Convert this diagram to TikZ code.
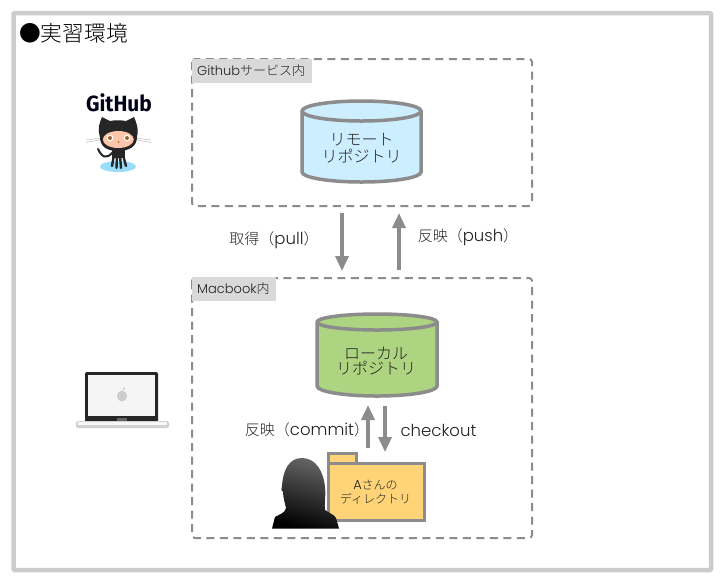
\documentclass[tikz,border=0pt]{standalone}
\usepackage{graphicx}
\usepackage{fontspec}
\setmainfont{Noto Sans CJK JP Light}
\newfontfamily\gh{Fira Sans}
\newfontfamily\lat{Poppins Light}
\usetikzlibrary{arrows.meta,calc}
\definecolor{lin}{HTML}{8C8C8C}
\definecolor{frame}{HTML}{CCCCCC}
\definecolor{lab}{HTML}{D9D9D9}
\definecolor{bluef}{HTML}{CCEEFF}
\definecolor{greenf}{HTML}{ADD480}
\definecolor{foldf}{HTML}{FFD377}
\definecolor{txt}{HTML}{222222}
\newcommand{\latbig}{\lat\fontsize{16.5}{17}\selectfont}
\newcommand{\latsmall}{\lat\fontsize{13}{14}\selectfont}
\tikzset{
 zone/.style={draw=lin,line width=2pt,dash pattern=on 8pt off 5.5pt,rounded corners=3pt},
 tag/.style={text=txt,inner sep=0pt,anchor=west,font=\fontsize{13}{14}\selectfont},
 cyl/.style={draw=lin,line width=3.5pt},
 flow/.style={draw=lin,line width=3.5pt,-{Triangle[length=15pt,width=13pt]}},
 caption/.style={text=txt,font=\fontsize{15}{16}\selectfont,inner sep=0pt},
 two/.style={text=txt,font=\fontsize{16}{17}\selectfont,align=center,inner sep=0pt},
}
\begin{document}
\begin{tikzpicture}[x=1pt,y=-1pt]
\useasboundingbox (0,0) rectangle (722,582);
\fill[white] (0,0) rectangle (722,582);
\draw[frame,line width=4.5pt,rounded corners=1pt] (13.5,13) rectangle (711,570);
\node[anchor=west,inner sep=0pt,font=\fontsize{21.7}{23}\selectfont,text=black] (title) at (19,33) {●実習環境};
% zones
\draw[zone] (192,59) rectangle (532,206);
\draw[zone] (192,278) rectangle (532,538);
\fill[lab] (192,59) rectangle (312,83);
\fill[lab] (192,277) rectangle (276,301);
\node[tag] (ghtag) at (197,71) {{\latsmall Github}サービス内};
\node[tag] (mactag) at (197,289) {{\latsmall Macbook}内};
% blue cylinder
\draw[cyl,fill=bluef] (302,111) -- (302,172) arc[start angle=180,end angle=0,x radius=59.5,y radius=10] -- (421,111) arc[start angle=0,end angle=-180,x radius=59.5,y radius=10] -- cycle;
\draw[cyl] (302,111) arc[start angle=180,end angle=0,x radius=59.5,y radius=10];
\node[two] (remote) at (361.5,148) {リモート\\[0pt]リポジトリ};
% green cylinder
\draw[cyl,fill=greenf] (317,322) -- (317,386) arc[start angle=180,end angle=0,x radius=60,y radius=10] -- (437,322) arc[start angle=0,end angle=-180,x radius=60,y radius=8] -- cycle;
\draw[cyl] (317,322) arc[start angle=180,end angle=0,x radius=60,y radius=8];
\node[two] (local) at (376,361) {ローカル\\[-2pt]リポジトリ};
% connectors
\coordinate (pullA) at (342,213); \coordinate (pullB) at (342,271);
\coordinate (pushA) at (399,270); \coordinate (pushB) at (399,213);
\coordinate (comA) at (368,448); \coordinate (comB) at (368,405);
\coordinate (chkA) at (385,406); \coordinate (chkB) at (385,452);
\draw[flow] (pullA) -- (pullB);
\draw[flow] (pushA) -- (pushB);
\draw[flow] (comA) -- (comB);
\draw[flow] (chkA) -- (chkB);
\node[caption] (pull) at (274,240) {取得（{\latbig pull}）};
\node[caption] (push) at (468,237) {反映（{\latbig push}）};
\node[caption] (commit) at (307,430) {反映（{\latbig commit}）};
\node[caption] (chk) at (438.5,430) {{\latbig checkout}};
% folder
\draw[lin,line width=3pt,fill=foldf] (328,463) -- (328,453.5) -- (356,453.5) -- (356,463);
\draw[lin,line width=3pt,fill=foldf] (328,463.5) rectangle (424,520);
\node[text=txt,font=\fontsize{12}{13}\selectfont,align=center,inner sep=0pt] (dir) at (375.5,492) {{\latsmall A}さんの\\[1.5pt]ディレクトリ};
% person
\shade[top color=black!60,bottom color=black,shading angle=-15]
 (272,528.5) -- (275,517) .. controls (280,514) and (285,513) .. (286,508)
 .. controls (285,503) and (283,497) .. (283,492) .. controls (281,491) and (281,489) .. (282,486)
 .. controls (283,470) and (289,458) .. (302,458) .. controls (316,458) and (324,472) .. (325,488)
 .. controls (326,497) and (324,505) .. (325,510) .. controls (329,513) and (335,515) .. (336,518)
 -- (339,528.5) -- cycle;
% GitHub logo
\node[font=\gh\bfseries\fontsize{22}{24}\selectfont,text=black!90!blue,inner sep=0pt] (ghlogo) at (119,103) {\scalebox{.95}[1]{GitHub}};
\fill[cyan!40!white] (118,166.5) ellipse[x radius=18,y radius=5.5];
\draw[black!20,line width=.7pt] (86,142.5) -- (101,139.5) (86,140) -- (101,138) (151,142.5) -- (135,139.5) (151,140) -- (135,138);
\draw[black!85,line width=2pt,line cap=round] (113,152) .. controls (106,160) and (102,157) .. (98,149);
\fill[black!85] (100,137) .. controls (97,128) and (100,122) .. (102,117) -- (110,121) .. controls (115,120) and (121,120) .. (126,121) -- (134,117) .. controls (136,122) and (139,128) .. (137,137) .. controls (137,146) and (130,151) .. (118,151) .. controls (106,151) and (100,146) .. (100,137) -- cycle;
\fill[black!85] (112,148) rectangle (125,158);
\draw[black!85,line width=2.4pt,line cap=round] (114,155) -- (112,166) (117,155) -- (116.5,168) (120,155) -- (121,168) (123,155) -- (126,166);
\fill[orange!30!pink!70!white] (118.3,139.5) ellipse[x radius=15.5,y radius=8.5];
\fill[white] (110,138) circle[radius=3.4] (127,138) circle[radius=3.4];
\fill[brown!80!black] (110,138) circle[radius=2] (127,138) circle[radius=2];
\fill[brown!70!black] (118.5,142) circle[radius=.8];
% laptop
\fill[black!85,rounded corners=2pt] (85,372) rectangle (158,422);
\fill[black!4] (88,375) rectangle (155,416);
\fill[black!20] (122,396) ellipse[x radius=5,y radius=5.5];
\fill[black!20] (122.5,390) -- (124.5,387) -- (124.5,389.5) -- cycle;
\fill[black!18,rounded corners=1.5pt] (76,421) rectangle (169,428);
\fill[black!3] (78,421.5) rectangle (167,425);
\fill[black!60] (117,418) rectangle (127,421);
\end{tikzpicture}
\end{document}
